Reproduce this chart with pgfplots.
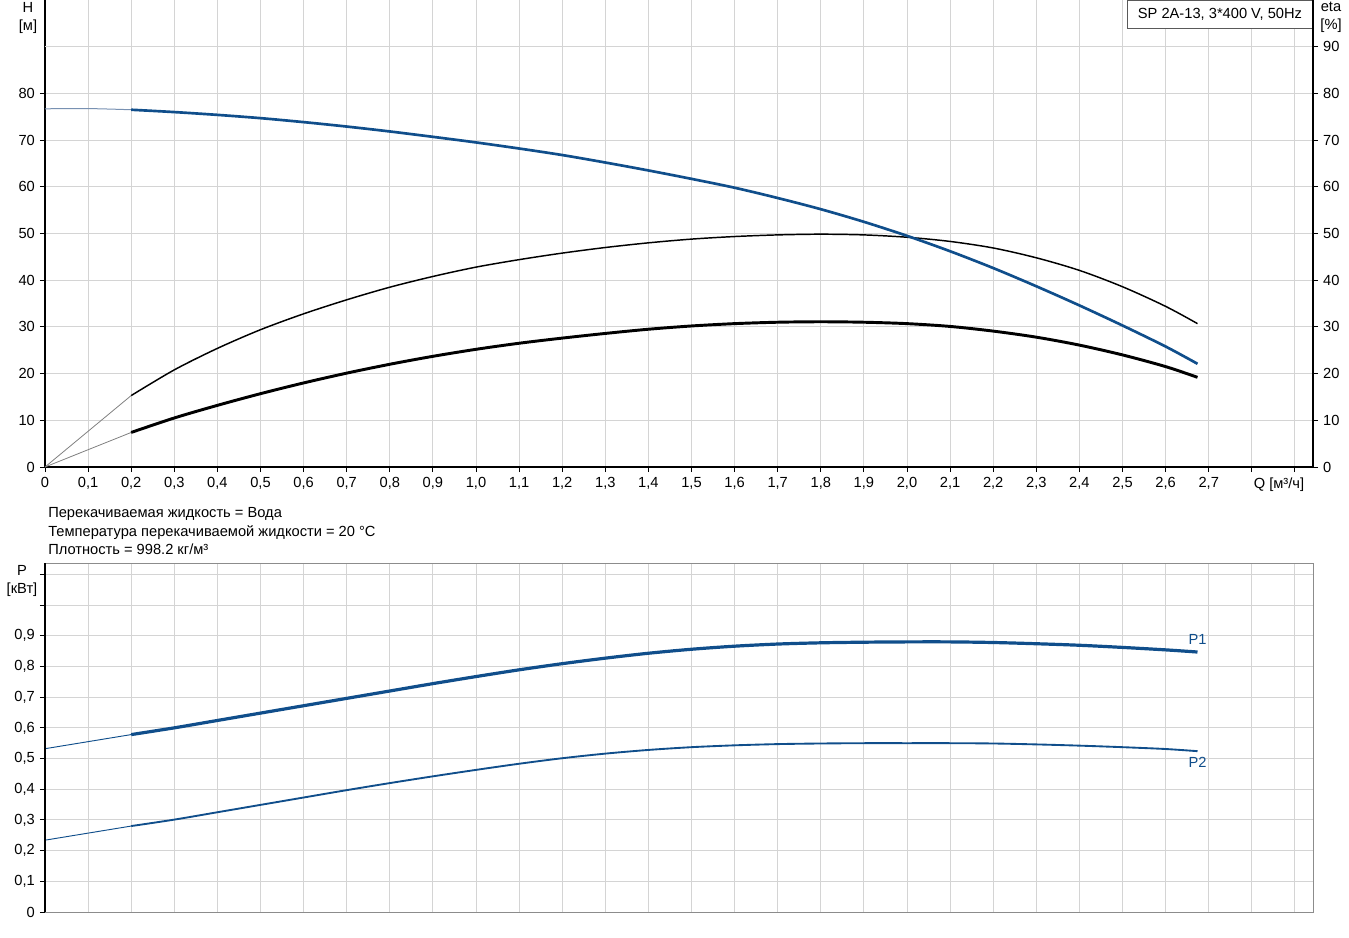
\documentclass[border=0pt]{standalone}
\usepackage{fontspec}
\setmainfont{Liberation Sans}
\usepackage{pgfplots}
\pgfplotsset{compat=1.18}

\definecolor{pumpblue}{RGB}{16,78,139}
\definecolor{thinblue}{RGB}{120,145,178}
\definecolor{gridgray}{RGB}{212,212,212}
\definecolor{framegray}{RGB}{140,140,140}

\pgfplotsset{
  pumpaxis/.style={
    scale only axis, width=951pt, xmin=0, xmax=2.942, clip=false,
    tick align=outside, major tick length=3.75pt,
    tick style={black, line width=0.75pt},
    axis line style={line width=1pt},
    major grid style={gridgray, line width=0.75pt},
    /pgf/number format/assume math mode=true,
    xtick={0,0.1,...,2.95},
  },
}

\begin{document}
\fontsize{11}{13.5}\selectfont
\begin{tikzpicture}
\useasboundingbox (0,0) rectangle (1011.75pt,-703.5pt);

% --- head and efficiency ---
\begin{axis}[pumpaxis, at={(33.75pt,0pt)}, anchor=north west, height=350.25pt,
  ymin=0, ymax=100,
  axis x line*=bottom, axis y line*=left,
  xticklabels={0,{0,1},{0,2},{0,3},{0,4},{0,5},{0,6},{0,7},{0,8},{0,9},
    {1,0},{1,1},{1,2},{1,3},{1,4},{1,5},{1,6},{1,7},{1,8},{1,9},
    {2,0},{2,1},{2,2},{2,3},{2,4},{2,5},{2,6},{2,7},{},{}},
  ytick={0,10,...,80},
  grid=major,
]
  \draw[gridgray, line width=0.75pt] (axis cs:0,90) -- (axis cs:2.942,90);
  % eta (hydraulic)
  \addplot[gray, line width=0.6pt] coordinates {(0,0)(0.2,15.3)};
  \addplot[black, line width=1.1pt, smooth] coordinates {
    (0.2,15.3)(0.3,20.8)(0.4,25.4)(0.5,29.4)(0.6,32.8)(0.7,35.8)(0.8,38.5)
    (0.9,40.8)(1.0,42.8)(1.1,44.4)(1.2,45.8)(1.3,47.0)(1.4,48.0)(1.5,48.8)
    (1.6,49.35)(1.7,49.7)(1.8,49.85)(1.9,49.7)(2.0,49.2)(2.1,48.3)(2.2,46.9)
    (2.3,44.8)(2.4,42.1)(2.5,38.6)(2.6,34.4)(2.674,30.7)};
  % eta (total)
  \addplot[gray, line width=0.6pt] coordinates {(0,0)(0.2,7.4)};
  \addplot[black, line width=2.2pt, smooth] coordinates {
    (0.2,7.4)(0.3,10.5)(0.4,13.2)(0.5,15.7)(0.6,18.0)(0.7,20.1)(0.8,22.0)
    (0.9,23.7)(1.0,25.2)(1.1,26.5)(1.2,27.6)(1.3,28.6)(1.4,29.5)(1.5,30.2)
    (1.6,30.7)(1.7,31.0)(1.8,31.1)(1.9,31.0)(2.0,30.7)(2.1,30.1)(2.2,29.1)
    (2.3,27.8)(2.4,26.1)(2.5,24.0)(2.6,21.5)(2.674,19.2)};
  % H
  \addplot[thinblue, line width=0.75pt, smooth] coordinates {(0,76.7)(0.1,76.75)(0.2,76.5)};
  \addplot[pumpblue, line width=2pt, smooth] coordinates {
    (0.2,76.5)(0.3,76.0)(0.4,75.4)(0.5,74.7)(0.6,73.85)(0.7,72.9)(0.8,71.85)
    (0.9,70.7)(1.0,69.5)(1.1,68.2)(1.2,66.8)(1.3,65.2)(1.4,63.5)(1.5,61.7)
    (1.6,59.8)(1.7,57.6)(1.8,55.2)(1.9,52.5)(2.0,49.5)(2.1,46.2)(2.2,42.6)
    (2.3,38.7)(2.4,34.6)(2.5,30.3)(2.6,25.8)(2.674,22.1)};

  \node[anchor=base] at (axis cs:2.863,0) [yshift=-15.75pt] {Q [м³/ч]};
  \node[anchor=north, align=center] at (rel axis cs:0,1) [xshift=-12.75pt, yshift=2pt] {H\\{[м]}};
  \node[anchor=north east, draw=black!65, fill=white, line width=0.75pt,
        minimum width=138.75pt, minimum height=21pt, inner sep=3pt]
    at (rel axis cs:1,1) {SP 2A-13, 3*400 V, 50Hz};
\end{axis}

% --- right eta scale ---
\begin{axis}[pumpaxis, at={(33.75pt,0pt)}, anchor=north west, height=350.25pt,
  ymin=0, ymax=100,
  axis x line=none, axis y line*=right,
  ytick={0,10,...,90},
]
  \node[anchor=north, align=center] at (rel axis cs:1,1) [xshift=13.5pt, yshift=2pt] {eta\\{[\%]}};
\end{axis}

% --- text block ---
\node[anchor=base west, inner sep=0pt] at (36pt,-388pt) {Перекачиваемая жидкость = Вода};
\node[anchor=base west, inner sep=0pt] at (36pt,-402pt) {Температура перекачиваемой жидкости = 20 °C};
\node[anchor=base west, inner sep=0pt] at (36pt,-415.5pt) {Плотность = 998.2 кг/м³};

% --- power ---
\begin{axis}[pumpaxis, at={(33.75pt,-422.25pt)}, anchor=north west, height=261.75pt,
  ymin=0, ymax=1.137,
  axis line style={framegray, line width=0.75pt},
  xticklabels={}, xmajorticks=false,
  ytick={0,0.1,...,1.15}, ytick pos=left,
  yticklabels={0,{0,1},{0,2},{0,3},{0,4},{0,5},{0,6},{0,7},{0,8},{0,9},{},{}},
  grid=major,
]
  \addplot[pumpblue, line width=0.7pt] coordinates {(0,0.532)(0.2,0.578)};
  \addplot[pumpblue, line width=2.4pt, smooth] coordinates {
    (0.2,0.578)(0.3,0.600)(0.4,0.624)(0.5,0.648)(0.6,0.672)(0.7,0.696)(0.8,0.720)
    (0.9,0.744)(1.0,0.767)(1.1,0.789)(1.2,0.809)(1.3,0.827)(1.4,0.843)(1.5,0.856)
    (1.6,0.866)(1.7,0.873)(1.8,0.877)(1.9,0.879)(2.0,0.880)(2.1,0.880)(2.2,0.878)
    (2.3,0.874)(2.4,0.869)(2.5,0.862)(2.6,0.854)(2.674,0.847)};
  \addplot[pumpblue, line width=0.7pt] coordinates {(0,0.234)(0.2,0.280)};
  \addplot[pumpblue, line width=1.4pt, smooth] coordinates {
    (0.2,0.280)(0.3,0.301)(0.4,0.325)(0.5,0.349)(0.6,0.373)(0.7,0.397)(0.8,0.420)
    (0.9,0.442)(1.0,0.463)(1.1,0.483)(1.2,0.501)(1.3,0.516)(1.4,0.528)(1.5,0.537)
    (1.6,0.543)(1.7,0.547)(1.8,0.549)(1.9,0.550)(2.0,0.550)(2.1,0.550)(2.2,0.549)
    (2.3,0.546)(2.4,0.542)(2.5,0.537)(2.6,0.531)(2.674,0.524)};

  \draw[black, line width=1pt] (rel axis cs:0,0) -- (rel axis cs:0,1);
  \node[anchor=south, text=pumpblue] at (axis cs:2.674,0.847) [yshift=1.5pt] {P1};
  \node[anchor=north, text=pumpblue] at (axis cs:2.674,0.524) [yshift=-0.5pt] {P2};
  \node[anchor=north, align=center] at (rel axis cs:0,1) [xshift=-17.25pt, yshift=2pt] {P\\{[кВт]}};
\end{axis}
\end{tikzpicture}
\end{document}
